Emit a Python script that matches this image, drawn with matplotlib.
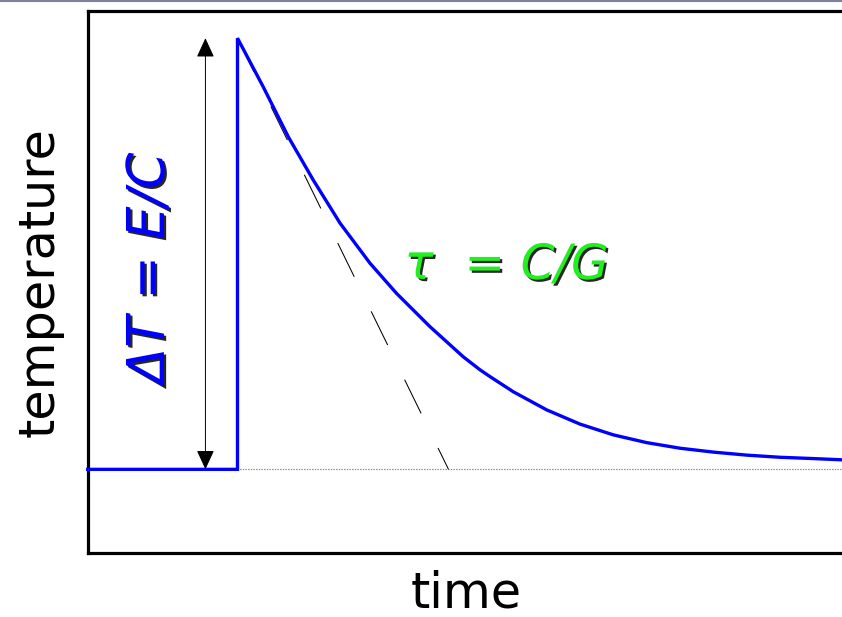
import matplotlib
matplotlib.use("Agg")
import matplotlib.pyplot as plt
import matplotlib.patheffects as pe
from matplotlib.lines import Line2D

# ---- data (time in units of tau, temperature relative to baseline, dT = 1) ----
baseline_t = [-0.71, 0.0]
baseline_T = [0.0, 0.0]
pulse_t = 0.0
T0 = 0.0
dT = 1.0
decay_t = [0.000, 0.122, 0.241, 0.359, 0.486, 0.628, 0.754, 0.912, 1.070, 1.149,
           1.197, 1.307, 1.465, 1.623, 1.781, 1.939, 2.097, 2.255, 2.413, 2.571,
           2.729, 2.870]
decay_T = [1.000, 0.887, 0.771, 0.671, 0.571, 0.478, 0.408, 0.331, 0.261, 0.231,
           0.215, 0.180, 0.138, 0.105, 0.080, 0.062, 0.049, 0.040, 0.033, 0.028,
           0.025, 0.022]
tangent_t = [0.0, 1.0]
tangent_T = [1.0, 0.0]
arrow_t = -0.152
xlim = (-0.7085, 2.865)
ylim = (-0.194, 1.063)

fig = plt.figure(figsize=(8.42, 6.17), dpi=100)
ax = fig.add_axes([88/842, 64/617, 754/842, 542/617])
ax.set_xlim(*xlim)
ax.set_ylim(*ylim)
ax.set_xticks([])
ax.set_yticks([])
for s in ["left", "top", "bottom"]:
    ax.spines[s].set_linewidth(2.3)
    ax.spines[s].set_color("black")
ax.spines["right"].set_visible(False)

blue = "#0000ff"
# dotted baseline continuation
ax.plot([pulse_t, xlim[1]], [T0, T0], color="#808080", lw=0.8, ls=(0, (1.2, 1.2)), zorder=2)
# tangent dashed line
ax.plot(tangent_t, tangent_T, color="black", lw=0.75, ls=(0, (36, 37)), zorder=2)
# temperature trace
xs = baseline_t + decay_t
ys = baseline_T + decay_T
ax.plot(xs, ys, color=blue, lw=2.4, solid_joinstyle="miter", zorder=3, clip_on=False)

# double arrow for dT
ax.annotate("", xy=(arrow_t, T0 + dT), xytext=(arrow_t, T0),
            arrowprops=dict(arrowstyle="<|-|>,head_length=1.2,head_width=0.55",
                            color="black", lw=0.7, shrinkA=0, shrinkB=0,
                            mutation_scale=10))

shadow = [pe.withSimplePatchShadow(offset=(1.6, -1.6), shadow_rgbFace="black", alpha=0.85)]
ax.text(-0.415, 0.467, "ΔT = E/C", rotation=90, color=blue, fontsize=37.5,
        fontstyle="italic", ha="center", va="center", path_effects=shadow)
ax.text(1.275, 0.474, "τ  = C/G", color="#22ee22", fontsize=35,
        fontstyle="italic", ha="center", va="center", path_effects=shadow)

fig.text(466/842, 9/617, "time", fontsize=35.5, ha="center", va="baseline")
fig.text(40/842, 1 - 282/617, "temperature", fontsize=35.5, rotation=90,
         ha="center", va="center")

# slide top border line
fig.add_artist(Line2D([0, 1], [1 - 0.8/617, 1 - 0.8/617], transform=fig.transFigure,
                      color="#8080a0", lw=1.5))

fig.savefig("out.png", dpi=100)
